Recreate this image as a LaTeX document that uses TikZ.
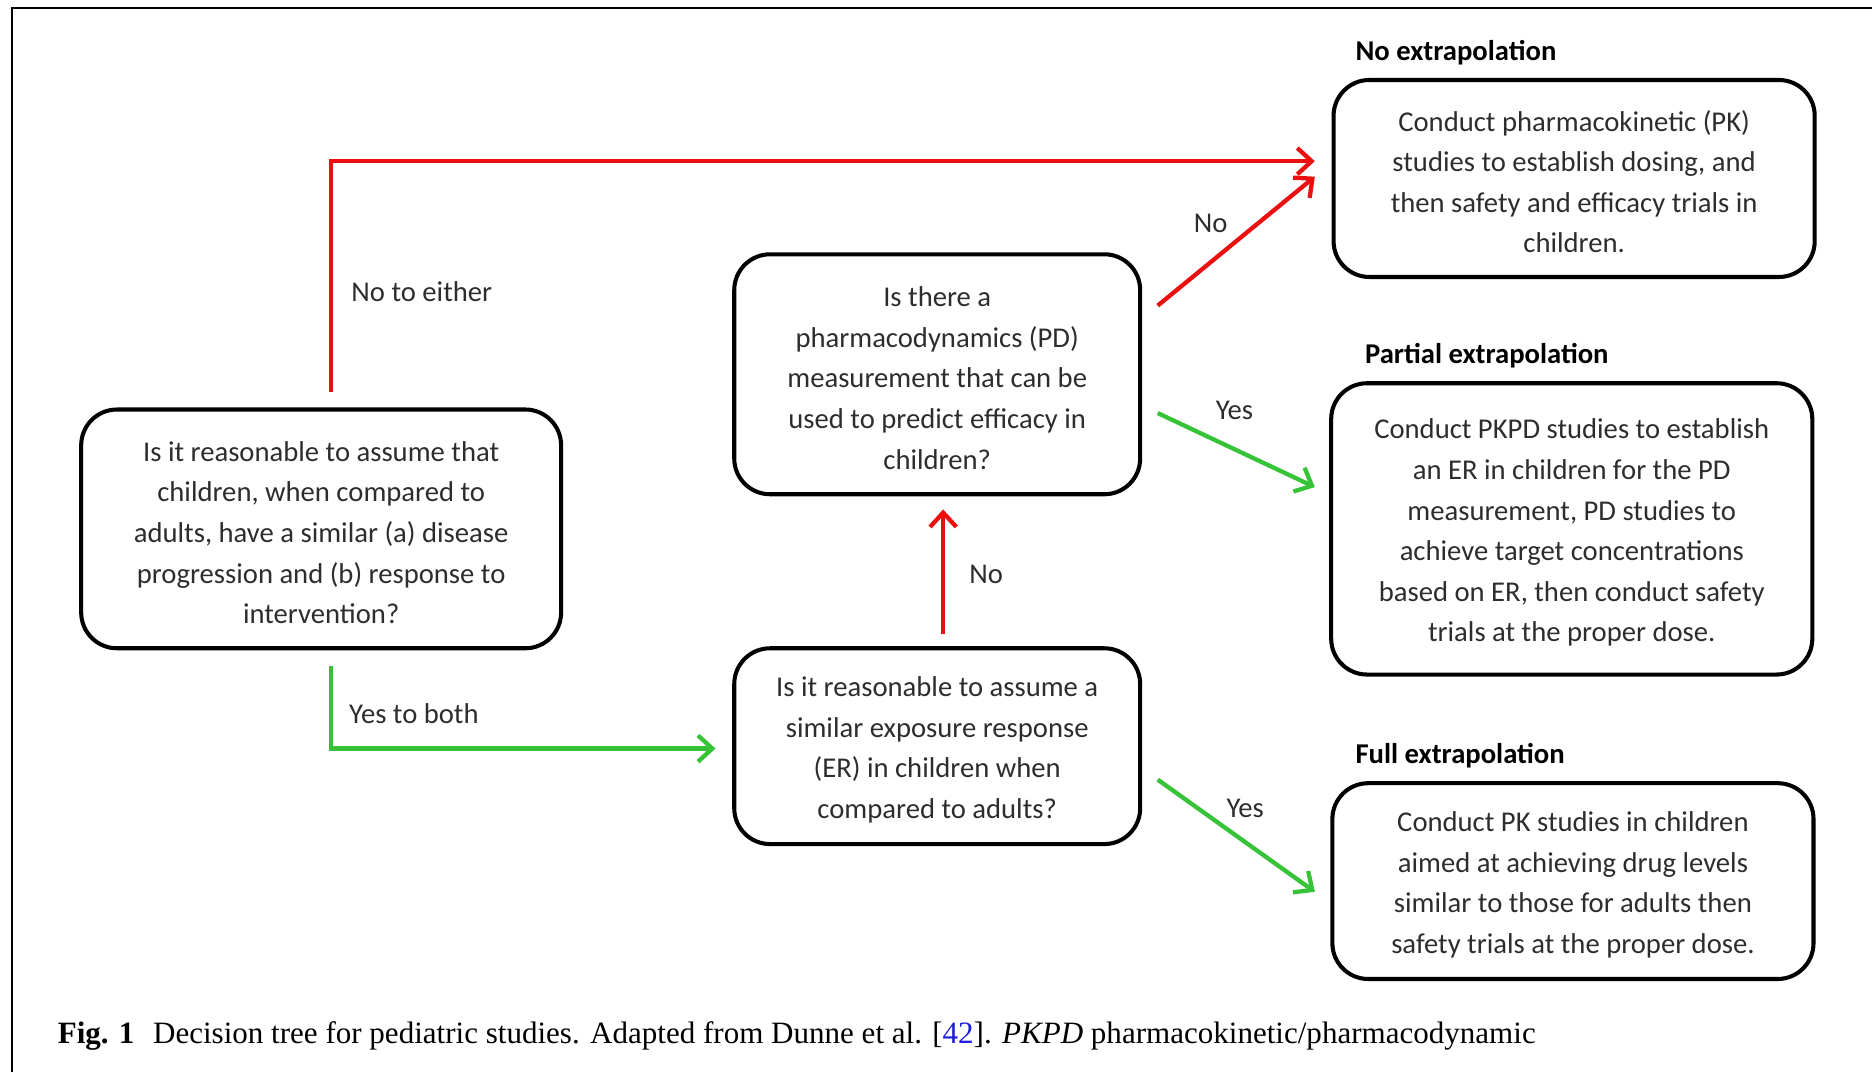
\documentclass[tikz,border=0pt]{standalone}
\usepackage{fontspec}
\setmainfont{Carlito}
\newfontfamily\capfont{Liberation Serif}
\usetikzlibrary{arrows.meta,calc}
\definecolor{arrred}{RGB}{235,15,15}
\definecolor{arrgreen}{RGB}{55,195,55}
\definecolor{txt}{RGB}{45,45,45}
\definecolor{refblue}{RGB}{30,30,220}
\begin{document}
\begin{tikzpicture}[x=0.5pt,y=-0.5pt,
  box/.style={draw=black,line width=1.7pt,rounded corners=15pt,align=center,
    text=txt,font=\fontsize{12}{17}\selectfont,inner sep=0pt},
  lbl/.style={text=txt,font=\fontsize{12}{14}\selectfont,inner sep=0pt},
  head/.style={text=black,font=\bfseries\fontsize{12}{14}\selectfont,inner sep=0pt,anchor=west},
  redarr/.style={draw=arrred,line width=1.8pt,-{Straight Barb[length=6pt,width=11pt]}},
  greenarr/.style={draw=arrgreen,line width=1.8pt,-{Straight Barb[length=6pt,width=11pt]}}]
\useasboundingbox (0,0) rectangle (1568,898);
\draw[line width=1pt] (10,898) -- (10,6.5) -- (1568,6.5);

\node[box,minimum width=201pt,minimum height=100pt] (A) at (269,443)
  {\rule{0pt}{11.5pt}Is it reasonable to assume that\\children, when compared to\\adults, have a similar (a) disease\\progression and (b) response to\\intervention?};
\node[box,minimum width=170pt,minimum height=100.5pt] (B) at (785,313.5)
  {\rule{0pt}{11.5pt}Is there a\\pharmacodynamics (PD)\\measurement that can be\\used to predict efficacy in\\children?};
\node[box,minimum width=170pt,minimum height=82pt] (C) at (785,625)
  {\rule{0pt}{11.5pt}Is it reasonable to assume a\\similar exposure response\\(ER) in children when\\compared to adults?};
\node[box,minimum width=201.5pt,minimum height=82.5pt] (D) at (1318.5,149.5)
  {\rule{0pt}{11.5pt}Conduct pharmacokinetic (PK)\\studies to establish dosing, and\\then safety and efficacy trials in\\children.};
\node[box,minimum width=201.5pt,minimum height=122pt] (E) at (1316.5,443)
  {\rule{0pt}{11.5pt}Conduct PKPD studies to establish\\an ER in children for the PD\\measurement, PD studies to\\achieve target concentrations\\based on ER, then conduct safety\\trials at the proper dose.};
\node[box,minimum width=201.5pt,minimum height=82pt] (F) at (1317.5,738)
  {\rule{0pt}{11.5pt}Conduct PK studies in children\\aimed at achieving drug levels\\similar to those for adults then\\safety trials at the proper dose.};

\node[head] (hD) at (1135,44) {No extrapolation};
\node[head] (hE) at (1143,298) {Partial extrapolation};
\node[head] (hF) at (1135,633) {Full extrapolation};

\draw[redarr] ([xshift=4pt,yshift=6.5pt]A.north) |- ([xshift=-7pt,yshift=7.25pt]D.west);
\draw[redarr] ([xshift=6.5pt,yshift=28.75pt]B.east) -- ([xshift=-7pt,yshift=0.75pt]D.west);
\draw[greenarr] ([xshift=6.5pt,yshift=-16.25pt]B.east) -- ([xshift=-6pt,yshift=17.5pt]E.west);
\draw[redarr] ([xshift=2.5pt,yshift=5pt]C.north) -- ([xshift=2.5pt,yshift=-5.5pt]B.south);
\draw[greenarr] ([xshift=4pt,yshift=-6.5pt]A.south) |- ([xshift=-7pt,yshift=-1pt]C.west);
\draw[greenarr] ([xshift=6.5pt,yshift=-14pt]C.east) -- ([xshift=-6.5pt,yshift=-4.5pt]F.west);

\node[lbl,anchor=west] (l1) at (294,244) {No to either};
\node[lbl] (l2) at (1014,187) {No};
\node[lbl] (l3) at (1034,344) {Yes};
\node[lbl] (l4) at (826,481) {No};
\node[lbl,anchor=west] (l5) at (292,598) {Yes to both};
\node[lbl] (l6) at (1043,677) {Yes};

\node[anchor=west,inner sep=0pt,font=\capfont\fontsize{13}{15}\selectfont] (cap) at (48,868)
  {\textbf{Fig. 1}\hspace{0.6em}Decision tree for pediatric studies. Adapted from Dunne et al. [{\color{refblue}42}]. \textit{PKPD} pharmacokinetic/pharmacodynamic};
\end{tikzpicture}
\end{document}
